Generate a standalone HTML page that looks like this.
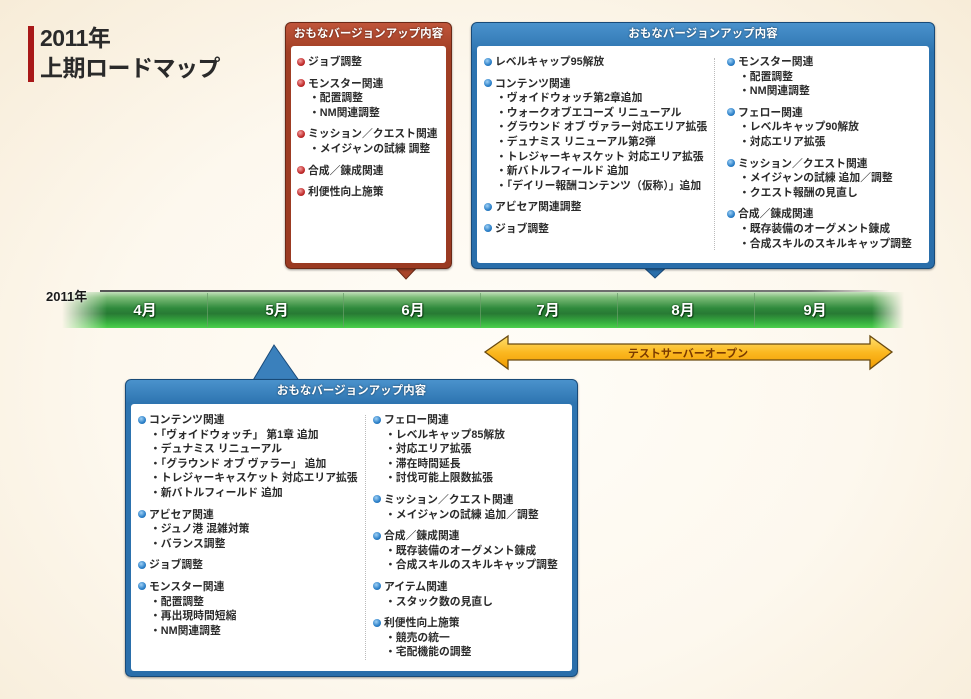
<!DOCTYPE html>
<html><head><meta charset="utf-8"><style>
*{margin:0;padding:0;box-sizing:border-box}
body{width:971px;height:699px;overflow:hidden;position:relative;background:radial-gradient(ellipse at 50% 55%,#fffdf8 0%,#fdf8ee 55%,#f7ecd8 100%);font-family:"Liberation Sans","Noto Sans CJK JP",sans-serif;font-weight:bold;color:#222}
.abs{position:absolute}
.title{left:40px;font-size:23px;color:#2a2a2a;letter-spacing:-0.5px;line-height:28px}
.box{position:absolute;border-radius:6px;box-shadow:0 1px 2px rgba(0,0,0,.4)}
.hd{position:absolute;left:0;right:0;top:0;height:22px;text-align:center;color:#fff;font-size:11.5px;line-height:23px;text-shadow:0 0 2px rgba(0,0,0,.6)}
.in{position:absolute;background:#fff;border-radius:3px}
.l{position:absolute;font-size:10.8px;line-height:14.6px;white-space:nowrap;color:#2b2b2b}
.l .s{padding-left:12px}
.d{display:inline-block;width:8px;height:8px;border-radius:50%;margin-right:3px;vertical-align:-0.5px}
.b .d{background:radial-gradient(circle at 40% 35%,#9fd0f5,#2a7fc8 60%,#1a5a9a)}
.r .d{background:radial-gradient(circle at 40% 35%,#f4a0a0,#c02a2a 60%,#8a1a1a)}
.g{margin-top:7px}
.m{position:absolute;top:299px;width:40px;text-align:center;color:#fff;font-size:15px;text-shadow:0 0 2px #0a3a10,1px 1px 1px #0a3a10}
.dv{position:absolute;top:293px;height:34px;width:1px;background:rgba(180,230,180,.6);border-left:1px solid rgba(0,60,0,.3)}
</style></head><body>
<div class="abs" style="left:28px;top:26px;width:6px;height:56px;background:#a81818"></div>
<div class="abs title" style="top:24px">2011年</div>
<div class="abs title" style="top:54px">上期ロードマップ</div>

<svg class="abs" style="left:390px;top:262px" width="32" height="20"><polygon points="0,0 32,0 16,17" fill="#a8452a" stroke="#6a2a18"/></svg>
<div class="box" style="left:285px;top:22px;width:167px;height:247px;background:linear-gradient(#c0553a,#a03e24 12%,#9a3a22);border:1px solid #6a2816">
<div class="hd">おもなバージョンアップ内容</div>
<div class="in" style="left:5px;top:23px;right:5px;bottom:5px"></div>
</div>
<div class="r">
<div class="l" style="left:297px;top:55px">
<div><span class="d"></span>ジョブ調整</div>
<div class="g"><span class="d"></span>モンスター関連</div>
<div class="s">・配置調整</div><div class="s">・NM関連調整</div>
<div class="g"><span class="d"></span>ミッション／クエスト関連</div>
<div class="s">・メイジャンの試練 調整</div>
<div class="g"><span class="d"></span>合成／錬成関連</div>
<div class="g"><span class="d"></span>利便性向上施策</div>
</div></div>

<svg class="abs" style="left:638px;top:262px" width="34" height="18"><polygon points="0,0 34,0 17,16" fill="#2a6eaa" stroke="#1a4a7a"/></svg>
<div class="box" style="left:471px;top:22px;width:464px;height:247px;background:linear-gradient(#4a92cc,#2d74b0 12%,#2a6eaa);border:1px solid #184a78">
<div class="hd">おもなバージョンアップ内容</div>
<div class="in" style="left:5px;top:23px;right:5px;bottom:5px"></div>
</div>
<div class="abs" style="left:714px;top:58px;height:192px;border-left:1px dotted #bbb"></div>
<div class="b">
<div class="l" style="left:484px;top:55px">
<div><span class="d"></span>レベルキャップ95解放</div>
<div class="g"><span class="d"></span>コンテンツ関連</div>
<div class="s">・ヴォイドウォッチ第2章追加</div>
<div class="s">・ウォークオブエコーズ リニューアル</div>
<div class="s">・グラウンド オブ ヴァラー対応エリア拡張</div>
<div class="s">・デュナミス リニューアル第2弾</div>
<div class="s">・トレジャーキャスケット 対応エリア拡張</div>
<div class="s">・新バトルフィールド 追加</div>
<div class="s">・「デイリー報酬コンテンツ（仮称）」追加</div>
<div class="g"><span class="d"></span>アビセア関連調整</div>
<div class="g"><span class="d"></span>ジョブ調整</div>
</div>
<div class="l" style="left:727px;top:55px">
<div><span class="d"></span>モンスター関連</div>
<div class="s">・配置調整</div><div class="s">・NM関連調整</div>
<div class="g"><span class="d"></span>フェロー関連</div>
<div class="s">・レベルキャップ90解放</div><div class="s">・対応エリア拡張</div>
<div class="g"><span class="d"></span>ミッション／クエスト関連</div>
<div class="s">・メイジャンの試練 追加／調整</div><div class="s">・クエスト報酬の見直し</div>
<div class="g"><span class="d"></span>合成／錬成関連</div>
<div class="s">・既存装備のオーグメント錬成</div><div class="s">・合成スキルのスキルキャップ調整</div>
</div></div>

<div class="abs" style="left:100px;top:290px;width:790px;height:2px;background:linear-gradient(90deg,#555,#777 90%,rgba(120,120,120,0))"></div>
<div class="abs" style="left:62px;top:292px;width:842px;height:36px;background:linear-gradient(#c4e0bc 0%,#7cbc78 15%,#2f8a3c 45%,#287a34 60%,#38b040 85%,#4cd04c 100%);-webkit-mask-image:linear-gradient(90deg,transparent 0,#000 45px,#000 810px,transparent 842px);mask-image:linear-gradient(90deg,transparent 0,#000 45px,#000 810px,transparent 842px)"></div>
<div class="abs" style="left:46px;top:286px;font-size:13px;color:#1a1a1a;text-shadow:0 0 2px #fff">2011年</div>
<div class="dv" style="left:207px"></div><div class="dv" style="left:343px"></div><div class="dv" style="left:480px"></div><div class="dv" style="left:617px"></div><div class="dv" style="left:754px"></div>
<div class="m" style="left:125px">4月</div><div class="m" style="left:257px">5月</div><div class="m" style="left:393px">6月</div><div class="m" style="left:528px">7月</div><div class="m" style="left:663px">8月</div><div class="m" style="left:795px">9月</div>

<svg class="abs" style="left:480px;top:332px" width="420" height="42">
<defs><linearGradient id="og" x1="0" y1="0" x2="0" y2="1"><stop offset="0" stop-color="#ffe070"/><stop offset="0.5" stop-color="#fbb820"/><stop offset="1" stop-color="#f09a00"/></linearGradient></defs>
<polygon points="5,20 28,4 28,12 390,12 390,4 412,20 390,37 390,28 28,28 28,37" fill="url(#og)" stroke="#6a4a10" stroke-width="1.3"/>
<text x="208" y="25" text-anchor="middle" font-family="Liberation Sans,Noto Sans CJK JP,sans-serif" font-weight="bold" font-size="11" fill="#7a3a00">テストサーバーオープン</text>
</svg>

<svg class="abs" style="left:250px;top:344px" width="52" height="40"><polygon points="2,38 24,1 50,38" fill="#3a80bc" stroke="#1a4a7a"/></svg>
<div class="box" style="left:125px;top:379px;width:453px;height:298px;background:linear-gradient(#4a92cc,#2d74b0 8%,#2a6eaa);border:1px solid #184a78">
<div class="hd">おもなバージョンアップ内容</div>
<div class="in" style="left:5px;top:24px;right:5px;bottom:5px"></div>
</div>
<div class="abs" style="left:365px;top:415px;height:245px;border-left:1px dotted #bbb"></div>
<div class="b">
<div class="l" style="left:138px;top:413px">
<div><span class="d"></span>コンテンツ関連</div>
<div class="s">・「ヴォイドウォッチ」 第1章 追加</div>
<div class="s">・デュナミス リニューアル</div>
<div class="s">・「グラウンド オブ ヴァラー」 追加</div>
<div class="s">・トレジャーキャスケット 対応エリア拡張</div>
<div class="s">・新バトルフィールド 追加</div>
<div class="g"><span class="d"></span>アビセア関連</div>
<div class="s">・ジュノ港 混雑対策</div><div class="s">・バランス調整</div>
<div class="g"><span class="d"></span>ジョブ調整</div>
<div class="g"><span class="d"></span>モンスター関連</div>
<div class="s">・配置調整</div><div class="s">・再出現時間短縮</div><div class="s">・NM関連調整</div>
</div>
<div class="l" style="left:373px;top:413px">
<div><span class="d"></span>フェロー関連</div>
<div class="s">・レベルキャップ85解放</div><div class="s">・対応エリア拡張</div><div class="s">・滞在時間延長</div><div class="s">・討伐可能上限数拡張</div>
<div class="g"><span class="d"></span>ミッション／クエスト関連</div>
<div class="s">・メイジャンの試練 追加／調整</div>
<div class="g"><span class="d"></span>合成／錬成関連</div>
<div class="s">・既存装備のオーグメント錬成</div><div class="s">・合成スキルのスキルキャップ調整</div>
<div class="g"><span class="d"></span>アイテム関連</div>
<div class="s">・スタック数の見直し</div>
<div class="g"><span class="d"></span>利便性向上施策</div>
<div class="s">・競売の統一</div><div class="s">・宅配機能の調整</div>
</div></div>
</body></html>
